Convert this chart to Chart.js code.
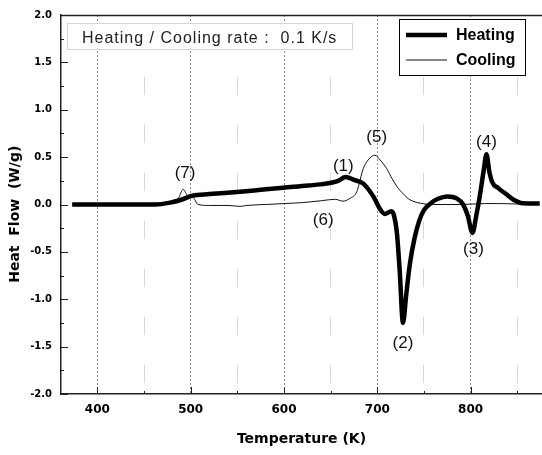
<!DOCTYPE html>
<html>
<head>
<meta charset="utf-8">
<script src="https://cdn.jsdelivr.net/npm/chart.js@4.4.1/dist/chart.umd.min.js"></script>
<style>
  html, body { margin: 0; padding: 0; background: #fff; }
  #wrap { width: 542px; height: 455px; }
</style>
</head>
<body>
<div id="wrap"><canvas id="dsc" width="542" height="455"></canvas></div>
<script>
// DSC curves, temperature in K, heat flow in W/g
const heatingT = [373, 462, 478, 490, 502, 520, 553, 575, 599, 626, 645, 658, 666, 675, 685, 696, 703, 708, 715, 718,
  721, 724, 727.5, 731, 735, 740, 745, 750, 757, 765, 775, 785, 792, 797, 802, 806, 810, 814, 817, 820,
  823, 830, 838, 846, 856, 874];
const heatingHF = [0, 0, 0.02, 0.05, 0.094, 0.11, 0.135, 0.155, 0.177, 0.2, 0.22, 0.25, 0.29, 0.26, 0.22, 0.08, -0.05, -0.1, -0.07, -0.12,
  -0.3, -0.7, -1.25, -0.95, -0.62, -0.35, -0.17, -0.06, 0.01, 0.06, 0.085, 0.065, 0.0, -0.12, -0.3, -0.12, 0.1, 0.36, 0.53, 0.35,
  0.24, 0.17, 0.11, 0.05, 0.013, 0.01];

const coolingT = [373, 480, 487, 492, 497, 502, 508, 520, 540, 553, 560, 580, 600, 620, 640, 655, 663, 671, 678, 685,
  692, 697.5, 703, 710, 716, 721, 728, 735, 746, 760, 790, 815, 830, 850, 874];
const coolingHF = [0, 0.02, 0.07, 0.16, 0.09, 0.08, 0, -0.01, -0.01, -0.02, -0.01, 0, 0.01, 0.02, 0.04, 0.055, 0.035, 0.066, 0.135, 0.38,
  0.49, 0.52, 0.47, 0.38, 0.27, 0.19, 0.11, 0.05, 0.014, 0, 0, 0.01, 0.01, 0.005, 0];

const xTicks = [400, 450, 500, 550, 600, 650, 700, 750, 800, 850];
const yTicks = [-2, -1.75, -1.5, -1.25, -1, -0.75, -0.5, -0.25, 0, 0.25, 0.5, 0.75, 1, 1.25, 1.5, 1.75, 2];

// peak markers
const peakNames = ['(1)', '(2)', '(3)', '(4)', '(5)', '(6)', '(7)'];
const peakT = [663.6, 727.5, 803, 817, 699.4, 642, 494];
const peakHF = [0.40, -1.46, -0.47, 0.656, 0.71, -0.17, 0.33];

const rateNote = 'Heating / Cooling rate :  0.1 K/s';

const toPoints = (xs, ys) => xs.map((x, i) => ({x: x, y: ys[i]}));
const isMajor = (v, step) => Math.abs(v / step - Math.round(v / step)) < 1e-6;

const minorDash = [1, 1, 1, 1, 1, 1, 1, 1, 1, 1, 1, 1, 1, 1, 1, 1, 1, 31];

const frame = {
  id: 'frame',
  afterDraw(chart) {
    const {ctx, chartArea: a, scales: {x, y}} = chart;
    ctx.save();
    // top border
    ctx.strokeStyle = '#222';
    ctx.lineWidth = 1.5;
    ctx.beginPath();
    ctx.moveTo(a.left, a.top + 0.5);
    ctx.lineTo(a.right, a.top + 0.5);
    ctx.stroke();
    // inward ticks
    ctx.lineWidth = 1;
    ctx.beginPath();
    xTicks.forEach(v => {
      const px = Math.round(x.getPixelForValue(v)) + 0.5;
      const len = isMajor(v, 100) ? 7 : 3;
      ctx.moveTo(px, a.bottom);
      ctx.lineTo(px, a.bottom - len);
    });
    yTicks.forEach(v => {
      const py = Math.round(y.getPixelForValue(v)) + 0.5;
      const len = isMajor(v, 0.5) ? 7 : 3;
      ctx.moveTo(a.left, py);
      ctx.lineTo(a.left + len, py);
    });
    ctx.stroke();
    ctx.restore();
  }
};

const notes = {
  id: 'notes',
  afterDatasetsDraw(chart) {
    const {ctx, scales: {x, y}} = chart;
    ctx.save();
    // peak numbers
    ctx.fillStyle = '#111';
    ctx.font = '17px "Liberation Sans", Arial, sans-serif';
    ctx.textAlign = 'center';
    ctx.textBaseline = 'middle';
    peakNames.forEach((n, i) => {
      ctx.fillText(n, x.getPixelForValue(peakT[i]), y.getPixelForValue(peakHF[i]));
    });

    // rate box
    ctx.fillStyle = '#fff';
    ctx.fillRect(67.5, 23.5, 285, 26);
    ctx.strokeStyle = '#d6d6d6';
    ctx.lineWidth = 1;
    ctx.strokeRect(67.5, 23.5, 285, 26);
    ctx.fillStyle = '#222';
    ctx.font = '16px "Liberation Sans", Arial, sans-serif';
    ctx.textAlign = 'left';
    ctx.textBaseline = 'alphabetic';
    ctx.letterSpacing = '1px';
    ctx.fillText(rateNote, 82, 43);
    ctx.letterSpacing = '0px';

    // legend
    ctx.fillStyle = '#fff';
    ctx.fillRect(399.5, 19.5, 126, 56);
    ctx.strokeStyle = '#000';
    ctx.strokeRect(399.5, 19.5, 126, 56);
    ctx.font = 'bold 16px "Liberation Sans", Arial, sans-serif';
    ctx.textBaseline = 'middle';
    chart.data.datasets.forEach((ds, i) => {
      const ly = 35 + i * 25;
      ctx.strokeStyle = ds.borderColor;
      ctx.lineWidth = ds.borderWidth;
      ctx.beginPath();
      ctx.moveTo(406, ly);
      ctx.lineTo(447, ly);
      ctx.stroke();
      ctx.fillStyle = '#000';
      ctx.fillText(ds.label, 456, ly + 1);
    });
    ctx.restore();
  }
};

const tickFont = {family: '"DejaVu Sans", sans-serif', weight: 'bold'};

new Chart(document.getElementById('dsc'), {
  type: 'line',
  data: {
    datasets: [{
      label: 'Heating',
      data: toPoints(heatingT, heatingHF),
      borderColor: '#000',
      borderWidth: 4.5,
      borderJoinStyle: 'round',
      pointRadius: 0,
      cubicInterpolationMode: 'monotone'
    }, {
      label: 'Cooling',
      data: toPoints(coolingT, coolingHF),
      borderColor: '#111',
      borderWidth: 1,
      pointRadius: 0,
      cubicInterpolationMode: 'monotone'
    }]
  },
  options: {
    responsive: false,
    animation: false,
    layout: {padding: {top: 12, right: 0, bottom: 0, left: 0}},
    plugins: {legend: {display: false}, tooltip: {enabled: false}},
    scales: {
      x: {
        type: 'linear',
        min: 361,
        max: 876.5,
        afterBuildTicks: axis => { axis.ticks = xTicks.map(v => ({value: v})); },
        afterFit: axis => { axis.height = 61; },
        ticks: {
          autoSkip: false,
          maxRotation: 0,
          padding: 9,
          color: '#000',
          font: Object.assign({size: 12}, tickFont),
          callback: v => isMajor(v, 100) ? String(v) : ''
        },
        grid: {
          drawTicks: false,
          lineWidth: 1,
          color: ctx => ctx.tick && isMajor(ctx.tick.value, 100) ? '#8a8a8a' : '#b0b0b0'
        },
        border: {
          color: '#222',
          width: 1.5,
          dash: ctx => ctx.tick ? (isMajor(ctx.tick.value, 100) ? [2, 2] : minorDash) : [],
          dashOffset: ctx => ctx.tick && !isMajor(ctx.tick.value, 100) ? 33.5 : 0
        },
        title: {
          display: true,
          text: 'Temperature (K)',
          color: '#000',
          font: Object.assign({size: 14}, tickFont),
          padding: {top: 0, bottom: 7}
        }
      },
      y: {
        min: -2,
        max: 2,
        afterBuildTicks: axis => { axis.ticks = yTicks.map(v => ({value: v})); },
        afterFit: axis => { axis.width = 61; },
        ticks: {
          autoSkip: false,
          padding: 9,
          color: '#000',
          font: Object.assign({size: 10}, tickFont),
          callback: v => isMajor(v, 0.5) ? v.toFixed(1) : ''
        },
        grid: {display: false, drawTicks: false},
        border: {color: '#222', width: 1.5},
        title: {
          display: true,
          text: 'Heat  Flow  (W/g)    ',
          color: '#000',
          font: Object.assign({size: 14}, tickFont),
          padding: {top: 7, bottom: 0}
        }
      }
    }
  },
  plugins: [frame, notes]
});
</script>
</body>
</html>
